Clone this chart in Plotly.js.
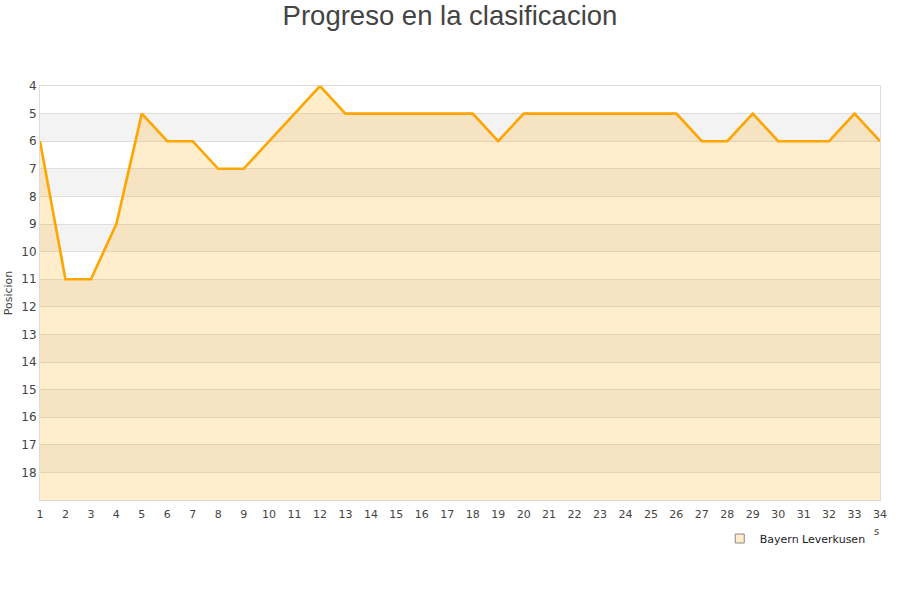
<!DOCTYPE html>
<html>
<head>
<meta charset="utf-8">
<script src="https://cdn.plot.ly/plotly-3.0.1.min.js"></script>
<style>html,body{margin:0;padding:0;background:#fff;}#chart{width:900px;height:600px;}</style>
</head>
<body>
<div id="chart"></div>
<script>
const jornadas = [1,2,3,4,5,6,7,8,9,10,11,12,13,14,15,16,17,18,19,20,21,22,23,24,25,26,27,28,29,30,31,32,33,34];
const posiciones = [6,11,11,9,5,6,6,7,7,6,5,4,5,5,5,5,5,5,6,5,5,5,5,5,5,5,6,6,5,6,6,6,5,6];
const equipo = "Bayern Leverkusen";
const yTicks = [4,5,6,7,8,9,10,11,12,13,14,15,16,17,18];
const yMin = 4, yMax = 19;

const shapes = [];
for (let v = yMin + 1; v < yMax; v += 2) {
  shapes.push({type:'rect', xref:'paper', yref:'y', x0:0, x1:1, y0:v, y1:v+1,
    fillcolor:'#f3f3f3', line:{width:0}, layer:'below'});
}

const traces = [
  {x: jornadas, y: jornadas.map(() => yMax), mode:'lines', line:{width:0, color:'rgba(0,0,0,0)'},
   showlegend:false, hoverinfo:'skip'},
  {x: jornadas, y: posiciones, mode:'lines', fill:'tonexty', fillcolor:'rgba(255,165,0,0.2)',
   line:{color:'#ffa500', width:2.6}, showlegend:false, name: equipo},
  {x:[null], y:[null], mode:'markers', name: equipo,
   marker:{symbol:'square', size:9, color:'#ffedcc', line:{color:'#888', width:1}}}
];

const layout = {
  width:900, height:600,
  margin:{l:40, r:20, t:86, b:100},
  paper_bgcolor:'#fff', plot_bgcolor:'rgba(0,0,0,0)',
  title:{text:'Progreso en la clasificacion', x:0.5, xanchor:'center', y:0.974, yanchor:'middle',
    font:{family:'Liberation Sans, Arial, sans-serif', size:27.5, color:'#444'}},
  font:{family:'DejaVu Sans, sans-serif', size:11, color:'#444'},
  xaxis:{range:[1,34], tickvals:jornadas, ticktext:jornadas.map(String), showgrid:false, zeroline:false,
    showline:true, linecolor:'#dcdcdc', linewidth:1, mirror:true, ticks:'', ticklabelstandoff:4,
    tickfont:{size:11, color:'#444'}},
  yaxis:{range:[yMax, yMin], tickvals:yTicks, showgrid:true, gridcolor:'#dedede', gridwidth:1, zeroline:false,
    showline:true, linecolor:'#dcdcdc', linewidth:1, mirror:true, ticks:'', tickfont:{size:12, color:'#444'},
    title:{text:'Posicion', font:{size:11, color:'#444'}, standoff:6}},
  shapes: shapes,
  showlegend:true,
  legend:{x:0.989, xanchor:'right', y:-0.058, yanchor:'top', orientation:'h',
    font:{size:11, color:'#222'}, bgcolor:'rgba(0,0,0,0)', itemwidth:30},
  annotations:[{text:'s', xref:'paper', yref:'paper', x:1.0, y:-0.075, xanchor:'center', yanchor:'middle',
    xshift:-4, showarrow:false, font:{size:10, color:'#444'}}]
};

Plotly.newPlot('chart', traces, layout, {displayModeBar:false, staticPlot:true});
</script>
</body>
</html>
